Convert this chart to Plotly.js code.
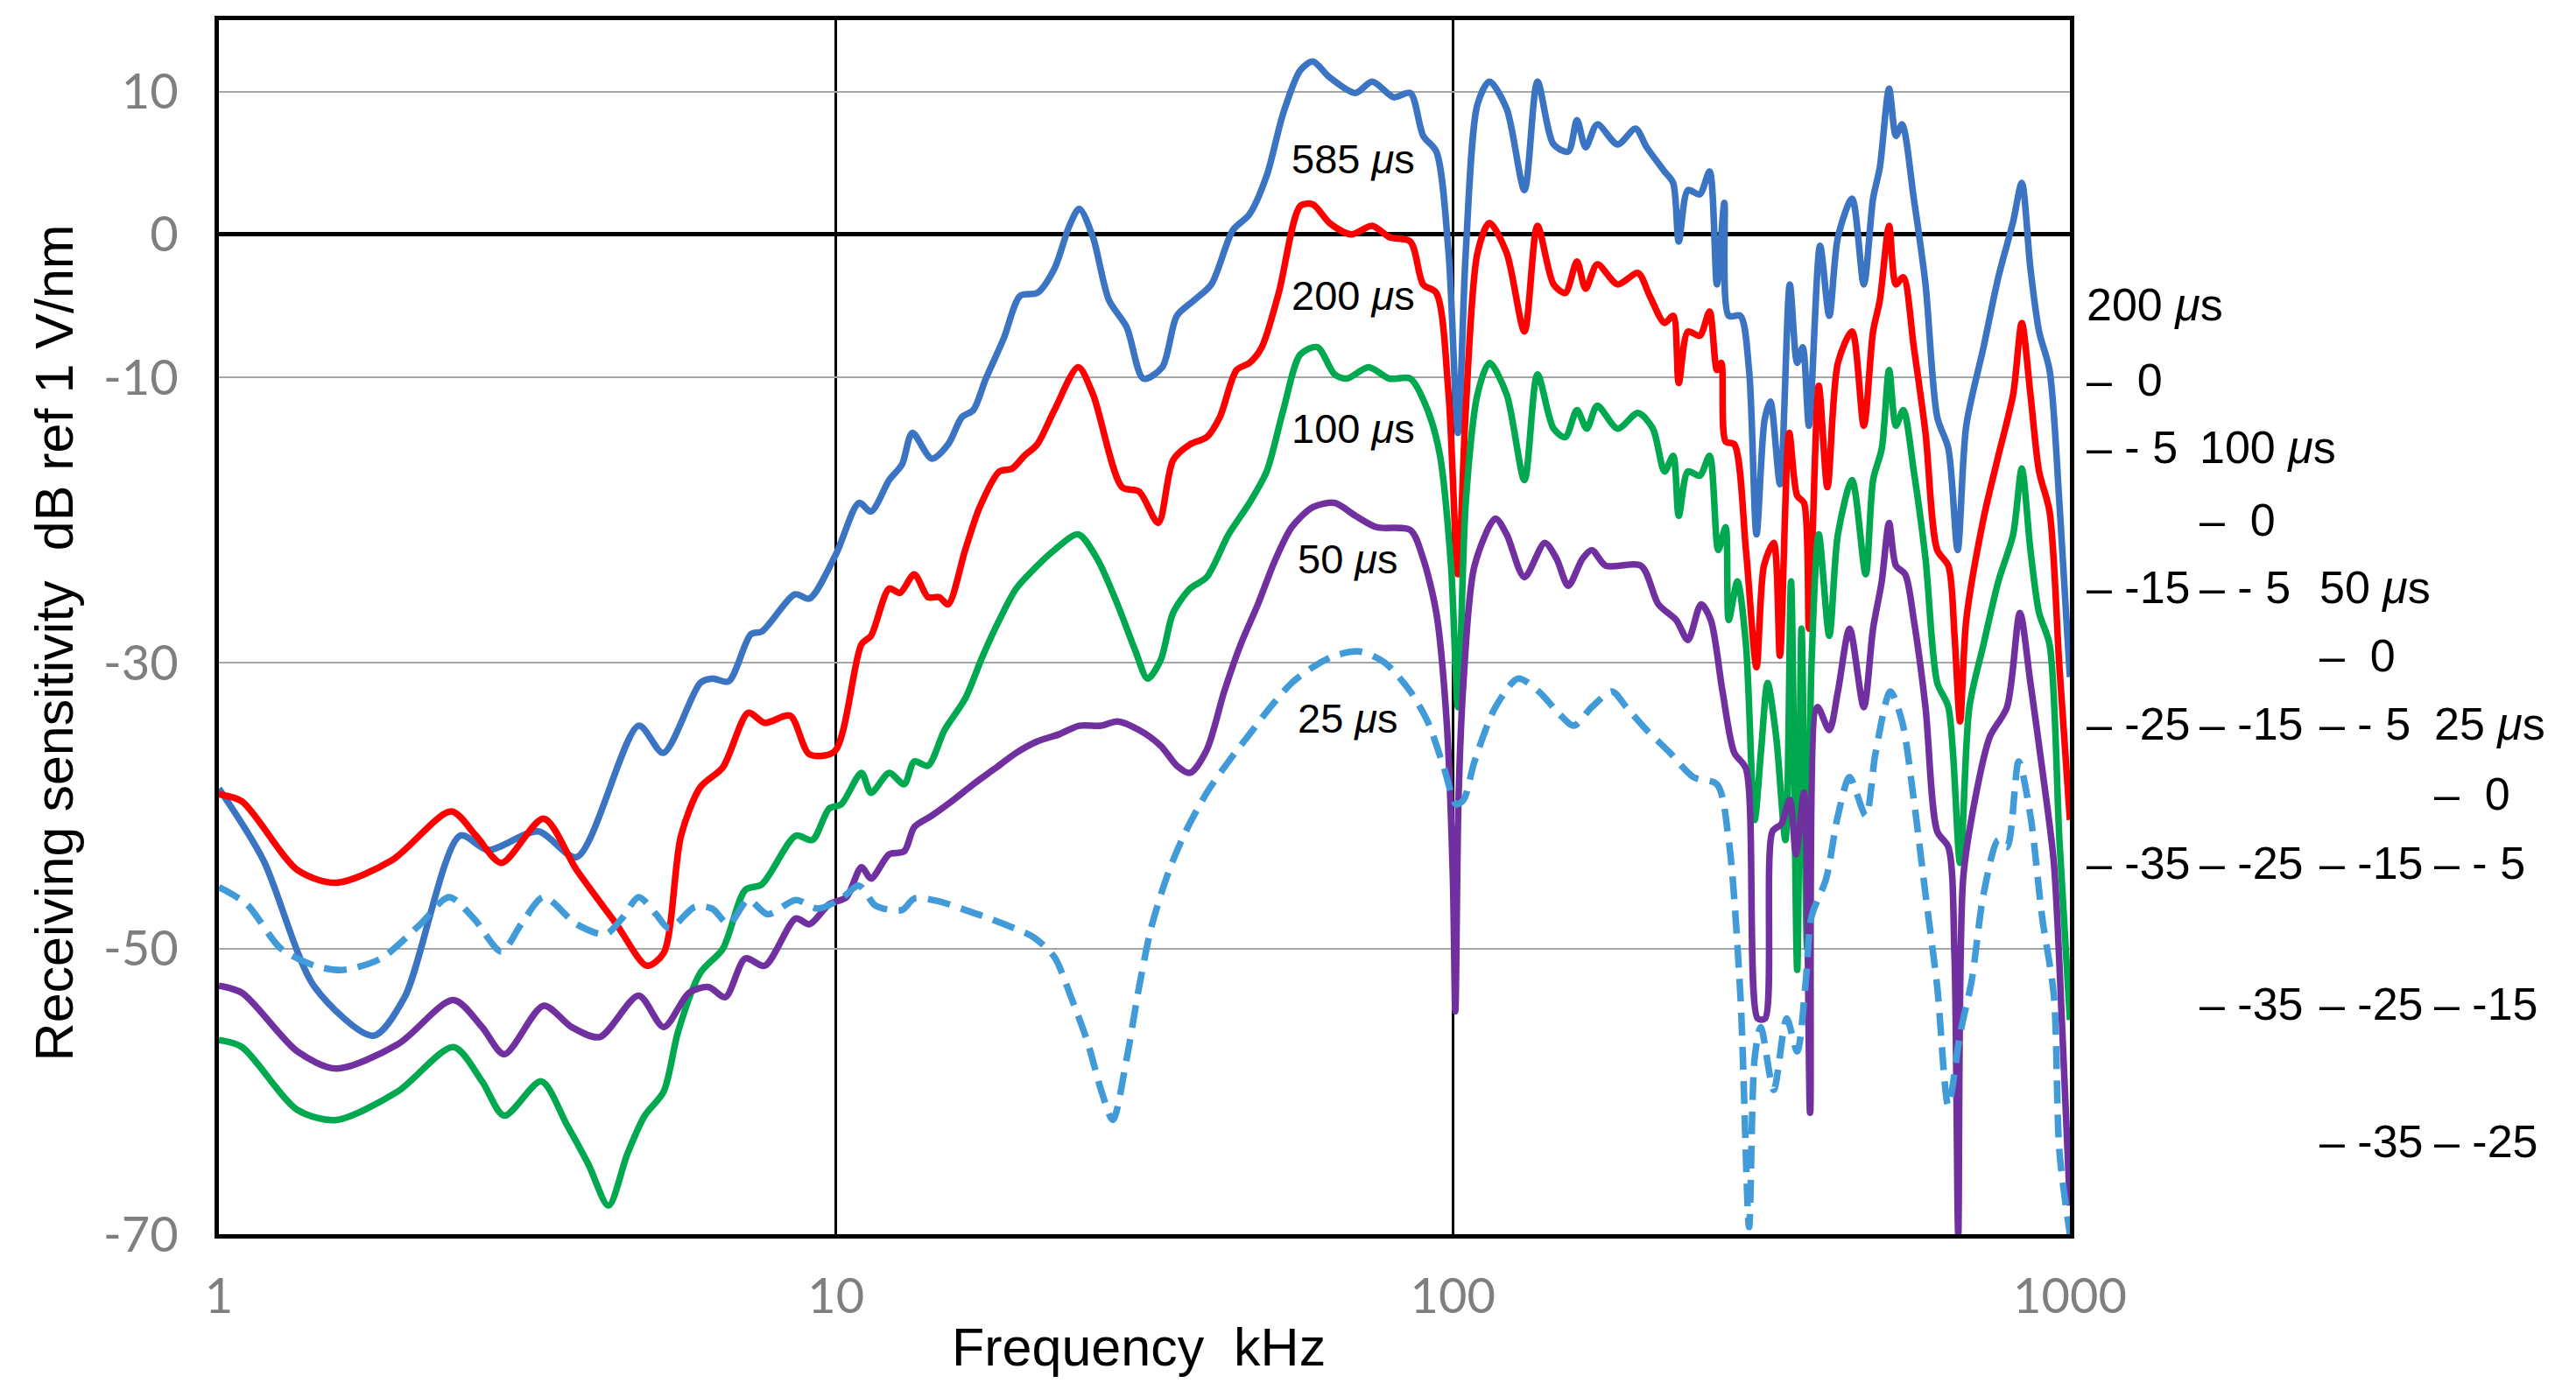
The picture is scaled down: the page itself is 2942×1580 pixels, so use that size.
<!DOCTYPE html>
<html>
<head>
<meta charset="utf-8">
<script src="https://cdn.plot.ly/plotly-3.0.1.min.js"></script>
<style>
  html, body { margin: 0; padding: 0; background: #fff; }
  #chart { width: 2942px; height: 1580px; }
</style>
</head>
<body>
<div id="chart"></div>
<script>
// frequency in kHz, sensitivity in dB ref 1 V/nm
var f585 = [1, 1.18, 1.43, 1.78, 2.0, 2.46, 2.73, 3.29, 3.8, 4.79, 5.25, 6.03, 6.31, 6.7, 7.28, 7.59, 8.59, 9.06, 10.0, 10.9,
  11.4, 12.2, 12.8, 13.3, 14.3, 15.2, 16.0, 16.7, 17.5, 18.7, 19.9, 21.2, 22.6, 23.9, 24.8, 26.1, 27.7, 29.6, 31.5, 33.8,
  35.7, 38.1, 40.6, 44.0, 46.8, 49.9, 53.1, 56.6, 59.3, 63.1, 69.5, 74.0, 80.2, 85.3, 89.5, 94.0, 98.4, 101.9, 104.9, 109.6,
  114.6, 122.2, 130.6, 137.1, 145.6, 153.8, 158.9, 164.1, 171.4, 184.9, 197.7, 206.1, 220.3, 227.5, 232.3, 240.4, 251.2, 260.6, 267.9, 275.4,
  279.9, 292.4, 302.0, 310.5, 320, 327, 339, 351.6, 361.4, 369.0, 377.6, 393.6, 407.4, 420.7, 443.6, 463.4, 479.7, 492.0, 509.3, 522.4,
  534.6, 558.5, 583.4, 609.5, 635.3, 657.7, 679.2, 724.4, 765.6, 809.1, 835.6, 863.0, 891.3, 926.8, 961.6, 1000];
var db585 = [-38.8, -43.8, -52.7, -56.1, -53.4, -42.1, -43.1, -41.8, -43.6, -34.4, -36.3, -31.4, -31.1, -31.3, -28.0, -27.8, -25.2, -25.5, -22.4, -18.8,
  -19.4, -17.2, -16.1, -13.9, -15.7, -14.7, -12.8, -12.3, -10.1, -7.3, -4.3, -4.1, -2.4, 0.6, 1.8, -0.2, -4.6, -6.5, -10.1, -9.3,
  -5.7, -4.6, -3.5, 0.3, 1.4, 4.1, 8.5, 11.5, 12.1, 11.0, 9.9, 10.7, 9.6, 9.9, 6.9, 5.8, -1.3, -13.9, -1.3, 9.1,
  10.7, 8.8, 3.1, 10.7, 6.3, 5.8, 8.0, 6.1, 7.7, 6.3, 7.4, 6.1, 4.4, 3.6, -0.5, 3.1, 2.8, 4.4, -3.5, 2.2,
  -5.7, -5.7, -9.5, -21.0, -13.0, -11.7, -17.5, -3.5, -9.0, -7.9, -13.4, -0.8, -5.7, -0.2, 2.5, -3.5, 2.5, 4.7, 10.2, 6.9,
  7.7, 2.5, -3.5, -12.8, -15.0, -22.1, -13.4, -7.9, -3.0, 0.9, 3.6, -2.4, -6.8, -9.5, -18.8, -31];

var f200 = [1, 1.09, 1.34, 1.55, 1.91, 2.38, 2.61, 2.87, 3.36, 3.8, 4.41, 4.94, 5.26, 5.61, 6.03, 6.56, 7.21, 7.67, 8.43, 9.06,
  9.95, 11.0, 11.4, 12.2, 12.7, 13.4, 14.1, 14.7, 15.2, 16.2, 17.1, 18.4, 19.3, 20.2, 21.2, 22.6, 24.7, 26.1, 29.1, 31.0,
  33.3, 35.2, 37.5, 39.9, 41.9, 44.6, 46.8, 49.0, 52.2, 56.6, 59.3, 63.1, 68.4, 74.0, 78.9, 85.3, 89.5, 94.0, 98.4, 101.9,
  104.9, 109.6, 114.6, 122.2, 130.6, 137.1, 145.6, 152.1, 158.9, 164.1, 171.4, 184.9, 199.5, 208.4, 220.3, 227.5, 232.3, 240.4, 251.2, 260.6,
  267.9, 272.3, 276.7, 285.8, 298.5, 310.5, 319.2, 331.1, 338.8, 350.8, 361.4, 370.7, 377.6, 391.7, 404.6, 420.7, 443.6, 463.4, 479.7, 492.0,
  509.3, 522.4, 537.0, 558.5, 583.4, 609.5, 635.3, 650.1, 663.7, 679.2, 724.4, 765.6, 809.1, 835.6, 863.0, 891.3, 926.8, 961.6, 1000];
var db200 = [-39.2, -39.7, -44.5, -45.4, -43.8, -40.4, -42.1, -44.0, -40.9, -44.5, -48.3, -51.2, -50.3, -42.1, -38.7, -37.3, -33.5, -34.2, -33.7, -36.4,
  -36.2, -28.7, -28.1, -24.8, -25.1, -23.8, -25.4, -25.4, -25.9, -22.1, -19.1, -16.6, -16.4, -15.5, -14.7, -12.3, -9.3, -11.2, -17.7, -18.0,
  -20.2, -15.8, -14.7, -14.2, -12.8, -9.5, -9.0, -7.9, -4.1, 2.0, 2.1, 0.8, 0.0, 0.6, -0.2, -0.5, -3.5, -4.1, -11.2, -23.8,
  -12.3, -1.3, 0.8, -1.3, -6.8, 0.6, -3.5, -4.1, -1.9, -3.8, -2.1, -3.5, -2.7, -4.3, -6.2, -5.7, -10.4, -6.8, -7.1, -5.4,
  -9.5, -9.0, -14.5, -14.7, -22.1, -30.3, -23.2, -21.6, -29.5, -13.9, -18.3, -18.8, -27.6, -10.6, -17.7, -9.0, -6.8, -13.4, -6.8, -4.6,
  0.6, -3.5, -3.0, -7.9, -13.9, -22.1, -23.2, -28.1, -34.1, -27.0, -19.9, -15.5, -11.2, -6.2, -11.2, -16.6, -19.4, -30.3, -41];

var f100 = [1, 1.09, 1.34, 1.55, 1.95, 2.40, 2.67, 2.90, 3.33, 3.66, 3.97, 4.28, 4.59, 4.90, 5.26, 5.55, 6.03, 6.56, 7.13, 7.59,
  8.61, 9.16, 9.75, 10.2, 11.0, 11.4, 12.2, 12.9, 13.4, 14.1, 15.0, 16.2, 17.3, 18.4, 19.6, 21.2, 22.6, 24.7, 26.5, 28.6,
  30.6, 32.0, 33.6, 35.2, 37.5, 39.9, 43.3, 46.8, 49.9, 53.1, 56.6, 60.3, 64.3, 67.3, 73.0, 78.9, 85.3, 91.0, 95.3, 99.3,
  101.9, 104.9, 109.6, 114.6, 122.2, 130.6, 137.1, 145.6, 152.1, 158.9, 164.8, 171.4, 184.9, 199.5, 210.9, 220.3, 227.5, 232.3, 240.4, 251.2,
  260.6, 269.2, 276.7, 279.9, 289.1, 298.5, 308.3, 316, 323.6, 334.2, 345.9, 353.2, 361.4, 367.3, 375.0, 381.1, 391.7, 407.4, 420.7, 443.6,
  466.7, 479.7, 495.5, 509.3, 522.4, 537.0, 558.5, 583.4, 609.5, 635.3, 663.7, 687.1, 724.4, 765.6, 809.1, 835.6, 863.0, 891.3, 926.8, 961.6, 1000];
var db100 = [-56.4, -56.9, -61.3, -62.0, -60.0, -56.9, -59.3, -61.7, -59.3, -62.3, -65.1, -68.0, -64.4, -61.7, -60.0, -55.8, -51.7, -50.0, -45.9, -45.5,
  -42.1, -42.4, -40.2, -39.9, -37.7, -39.1, -37.7, -38.5, -36.9, -37.2, -34.7, -32.5, -29.5, -27.0, -24.8, -23.2, -22.1, -21.0, -22.7, -25.9,
  -29.2, -31.1, -29.8, -26.5, -24.8, -24.0, -21.0, -18.8, -16.6, -12.3, -8.4, -7.9, -9.8, -10.1, -9.3, -10.1, -10.1, -12.3, -15.5, -23.2,
  -33.1, -18.8, -11.2, -9.0, -11.2, -17.2, -9.8, -13.6, -14.2, -12.3, -13.6, -12.0, -13.6, -12.5, -13.6, -16.6, -15.5, -19.7, -16.6, -16.9,
  -15.5, -22.1, -20.5, -27.0, -24.3, -28.7, -41.0, -36.0, -31.4, -35.2, -42.4, -24.3, -51.5, -27.6, -50.0, -30.3, -21.0, -28.1, -21.0, -17.2,
  -23.8, -17.2, -15.0, -9.5, -13.4, -12.3, -16.6, -22.7, -31.4, -33.1, -44.0, -33.1, -28.7, -24.3, -21.0, -16.4, -22.1, -26.5, -28.7, -42.4, -55];

var f50 = [1, 1.09, 1.34, 1.55, 1.95, 2.40, 2.67, 2.90, 3.36, 3.73, 4.14, 4.79, 5.26, 5.78, 6.22, 6.62, 7.13, 7.67, 8.61, 9.06,
  9.75, 10.4, 11.0, 11.4, 12.2, 12.9, 13.4, 14.3, 15.5, 16.7, 18.1, 19.6, 21.2, 23.0, 24.8, 26.9, 28.6, 31.0, 33.6, 35.7,
  37.5, 39.9, 42.6, 45.3, 48.3, 51.4, 54.8, 59.3, 64.3, 69.5, 75.2, 85.3, 89.5, 94.0, 97.7, 100, 100.9, 102.1, 104.0, 108.4,
  117.2, 122.2, 130.6, 140.9, 147.2, 153.8, 162.2, 167.9, 177.0, 201.8, 215.3, 230.1, 240.4, 252.4, 261.8, 273.5, 285.8, 298.5, 311.9, 320.6,
  329.6, 340.4, 351.6, 359.8, 370.7, 379.3, 389.9, 407.4, 420.7, 439.5, 463.4, 479.7, 495.5, 509.3, 522.4, 540.8, 558.5, 583.4, 609.5, 635.3,
  650.1, 659.2, 671.4, 701.5, 741.3, 790.7, 829.8, 863.0, 901.6, 941.9, 972.6, 1000];
var db50 = [-52.6, -53.1, -57.2, -58.4, -56.7, -53.6, -55.5, -57.4, -54.0, -55.5, -56.2, -53.3, -55.5, -53.1, -52.7, -53.4, -50.7, -51.2, -47.9, -48.3,
  -46.9, -46.4, -44.3, -45.1, -43.4, -43.2, -41.5, -40.7, -39.6, -38.5, -37.4, -36.3, -35.5, -35.0, -34.4, -34.4, -34.1, -34.7, -35.8, -37.2,
  -37.7, -36.1, -32.0, -28.7, -25.9, -22.9, -20.5, -19.1, -18.8, -19.7, -20.5, -20.7, -22.7, -26.5, -34.1, -45.1, -54.4, -39.6, -31.4, -23.2,
  -19.9, -21.0, -24.0, -21.6, -22.7, -24.6, -22.7, -22.1, -23.2, -23.2, -25.9, -27.0, -28.4, -25.9, -27.0, -32.0, -36.3, -37.4, -54.9, -54.9,
  -41.8, -41.3, -39.6, -43.4, -39.1, -61.5, -33.1, -34.7, -32.0, -27.6, -33.1, -27.6, -24.3, -20.2, -23.2, -23.8, -27.0, -33.1, -41.8, -42.9,
  -50.6, -70, -45.1, -39.6, -35.2, -33.1, -26.5, -31.4, -37.4, -44.0, -56.0, -68];

var f25 = [1, 1.11, 1.26, 1.43, 1.59, 1.83, 2.12, 2.36, 2.59, 2.87, 3.09, 3.36, 3.80, 4.23, 4.50, 4.79, 5.11, 5.37, 5.90, 6.30,
  6.70, 7.21, 7.75, 8.61, 9.35, 10.2, 10.9, 11.6, 12.8, 13.4, 14.7, 16.2, 17.5, 19.0, 20.9, 22.6, 24.0, 25.6, 26.9, 28.1,
  29.6, 31.0, 32.5, 34.7, 36.9, 39.9, 43.3, 46.8, 50.6, 54.8, 59.3, 64.3, 70.6, 77.6, 85.3, 91.0, 96.8, 101.2, 104.0, 108.4,
  117.2, 127.6, 137.7, 148.9, 157.0, 167.9, 181.1, 191.0, 206.1, 224.9, 245.5, 267.9, 279.9, 292.4, 302.0, 308.3, 315.5, 331.1, 347.5, 361.4,
  373.3, 381.1, 402.7, 420.7, 439.5, 466.7, 484.2, 511.7, 534.6, 558.5, 583.4, 609.5, 635.3, 663.7, 693.4, 724.4, 765.6, 790.7, 826.0, 863.0,
  901.6, 941.9, 961.6, 1000];
var db25 = [-45.7, -46.9, -50.0, -51.2, -51.5, -50.7, -48.3, -46.4, -47.9, -50.2, -48.3, -46.4, -48.3, -49.0, -47.9, -46.4, -47.6, -48.6, -47.1, -47.2,
  -48.3, -46.6, -47.6, -46.6, -47.2, -46.5, -45.6, -47.0, -47.3, -46.5, -46.7, -47.3, -47.8, -48.4, -49.2, -50.6, -53.3, -56.6, -59.9, -62.0,
  -57.7, -52.7, -48.4, -44.5, -41.8, -39.1, -36.9, -35.0, -33.1, -31.4, -30.3, -29.5, -29.2, -30.0, -32.0, -34.1, -37.4, -39.9, -39.6, -36.9,
  -33.1, -31.1, -32.0, -33.6, -34.4, -33.1, -32.0, -33.1, -34.7, -36.3, -38.0, -38.5, -42.4, -53.3, -69.5, -57.7, -55.5, -59.9, -54.9, -57.2,
  -52.2, -47.8, -45.1, -40.7, -38.0, -40.7, -36.3, -32.0, -34.1, -39.6, -46.2, -52.7, -61.0, -56.0, -52.2, -46.2, -42.4, -42.9, -36.9, -40.7,
  -47.8, -53.3, -64.2, -70];

var yTicks = [10, 0, -10, -30, -50, -70];
var yTickText = ['10', '0', '-10', '-30', '-50', '-70'];
var xTicks = [1, 10, 100, 1000];
var xTickText = ['1', '10', '100', '1000'];

var sans = 'Liberation Sans, Arial, sans-serif';
var tickFont = { family: 'Lato, Carlito, sans-serif', size: 56, color: '#7f7f7f' };

function curve(x, y, color, dash) {
    return {
        x: x,
        y: y,
        type: 'scatter',
        mode: 'lines',
        line: { color: color, width: 7.5, shape: 'spline', smoothing: 0.8, dash: dash || 'solid' },
        showlegend: false,
        hoverinfo: 'skip'
    };
}

var data = [
    curve(f585, db585, '#3a74c2'),
    curve(f200, db200, '#ff0000'),
    curve(f100, db100, '#00a84f'),
    curve(f50, db50, '#7030a0'),
    curve(f25, db25, '#419bd8', '26px,13px')
];

// curve labels inside the plot
var insideLabels = [
    { x: 69, y: 5.3, text: '585 <i>μ</i>s' },
    { x: 69, y: -4.3, text: '200 <i>μ</i>s' },
    { x: 69, y: -13.6, text: '100 <i>μ</i>s' },
    { x: 67.6, y: -22.7, text: '50 <i>μ</i>s' },
    { x: 67.6, y: -33.9, text: '25 <i>μ</i>s' }
];

// secondary scales drawn to the right of the plot
var sideCol = [1.008, 1.069, 1.134, 1.196];
var sideRows = [
    [-4.9, ['200 <i>μ</i>s', '', '', '']],
    [-10.2, ['–\u00a0\u00a00', '', '', '']],
    [-14.9, ['–\u00a0-\u00a05', '100 <i>μ</i>s', '', '']],
    [-20.0, ['', '–\u00a0\u00a00', '', '']],
    [-24.7, ['–\u00a0-15', '–\u00a0-\u00a05', '50 <i>μ</i>s', '']],
    [-29.5, ['', '', '–\u00a0\u00a00', '']],
    [-34.3, ['–\u00a0-25', '–\u00a0-15', '–\u00a0-\u00a05', '25 <i>μ</i>s']],
    [-39.2, ['', '', '', '–\u00a0\u00a00']],
    [-44.0, ['–\u00a0-35', '–\u00a0-25', '–\u00a0-15', '–\u00a0-\u00a05']],
    [-53.9, ['', '–\u00a0-35', '–\u00a0-25', '–\u00a0-15']],
    [-63.5, ['', '', '–\u00a0-35', '–\u00a0-25']]
];

var annotations = [];
insideLabels.forEach(function (l) {
    annotations.push({
        x: Math.log10(l.x), y: l.y, xref: 'x', yref: 'y', text: l.text,
        showarrow: false, xanchor: 'center', yanchor: 'middle',
        font: { family: sans, size: 47, color: '#000' }
    });
});
sideRows.forEach(function (row) {
    row[1].forEach(function (t, c) {
        if (!t) return;
        annotations.push({
            x: sideCol[c], y: row[0], xref: 'paper', yref: 'y', text: t,
            showarrow: false, xanchor: 'left', yanchor: 'middle',
            font: { family: sans, size: 52, color: '#000' }
        });
    });
});
// axis titles
annotations.push({
    x: -0.089, y: 0.487, xref: 'paper', yref: 'paper',
    text: 'Receiving sensitivity\u00a0\u00a0dB ref 1 V/nm', textangle: -90,
    showarrow: false, xanchor: 'center', yanchor: 'middle',
    font: { family: sans, size: 61, color: '#000' }
});
annotations.push({
    x: 0.497, y: -0.093, xref: 'paper', yref: 'paper',
    text: 'Frequency\u00a0\u00a0kHz',
    showarrow: false, xanchor: 'center', yanchor: 'middle',
    font: { family: sans, size: 61, color: '#000' }
});

var layout = {
    width: 2942,
    height: 1580,
    margin: { l: 250, r: 578, t: 23, b: 170 },
    paper_bgcolor: '#fff',
    plot_bgcolor: '#fff',
    xaxis: {
        type: 'log',
        range: [0, 3],
        tickvals: xTicks,
        ticktext: xTickText,
        tickfont: tickFont,
        ticks: '',
        ticklabelstandoff: 18,
        showgrid: true,
        gridcolor: '#000',
        gridwidth: 3.5,
        showline: true,
        linecolor: '#000',
        linewidth: 5,
        mirror: true,
        zeroline: false
    },
    yaxis: {
        range: [-70, 15],
        tickvals: yTicks,
        ticktext: yTickText,
        tickfont: tickFont,
        ticks: '',
        ticklabelstandoff: 30,
        showgrid: true,
        gridcolor: '#a6a6a6',
        gridwidth: 2,
        zeroline: true,
        zerolinecolor: '#000',
        zerolinewidth: 5,
        showline: true,
        linecolor: '#000',
        linewidth: 5,
        mirror: true
    },
    annotations: annotations
};

Plotly.newPlot('chart', data, layout, { displayModeBar: false, staticPlot: true });
</script>
</body>
</html>
